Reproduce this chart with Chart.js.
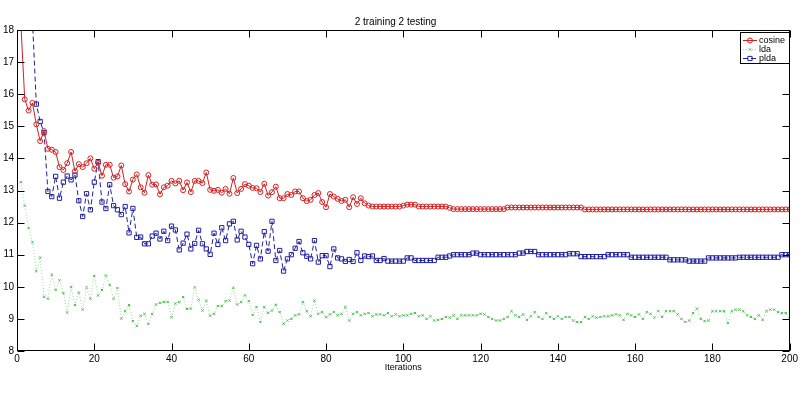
<!DOCTYPE html>
<html><head><meta charset="utf-8">
<script src="https://cdn.jsdelivr.net/npm/chart.js@4"></script>
<style>html,body{margin:0;padding:0;background:#fff}#wrap{width:800px;height:394px}</style>
</head><body><div id="wrap"><canvas id="c" width="800" height="394"></canvas></div>
<script>
const chartTitle = '2 training 2 testing';
const xAxisTitle = 'Iterations';
const seriesNames = ['cosine', 'lda', 'plda'];
const xTickValues = [0, 20, 40, 60, 80, 100, 120, 140, 160, 180, 200];
const yTickValues = [8, 9, 10, 11, 12, 13, 14, 15, 16, 17, 18];
const iterations = Array.from({length: 200}, (_, i) => i + 1);

const cosine = [
18.2,15.84,15.49,15.73,15.06,14.54,14.85,14.3,14.27,14.2,
13.73,13.64,13.85,14.2,13.6,13.82,13.73,13.85,14.0,13.68,
13.86,13.46,13.8,13.8,13.4,13.44,13.78,13.2,12.97,13.34,
13.5,13.1,12.93,13.48,13.18,13.19,12.88,13.1,13.15,13.3,
13.22,13.3,13.01,13.25,12.95,13.3,13.3,13.23,13.56,13.02,
12.99,13.02,12.93,13.05,12.9,13.39,12.92,13.05,13.2,13.15,
13.08,13.07,12.95,13.21,12.84,12.95,13.12,12.76,12.76,12.89,
12.86,12.97,12.97,12.76,12.67,12.71,12.86,12.92,12.64,12.48,
12.89,12.81,12.74,12.67,12.71,12.48,12.79,12.58,12.76,12.6,
12.53,12.5,12.5,12.5,12.5,12.5,12.5,12.5,12.5,12.53,
12.56,12.56,12.56,12.5,12.5,12.5,12.5,12.5,12.5,12.5,
12.5,12.46,12.42,12.42,12.42,12.42,12.42,12.42,12.42,12.42,
12.42,12.42,12.42,12.42,12.42,12.42,12.47,12.47,12.47,12.47,
12.47,12.47,12.47,12.47,12.47,12.47,12.47,12.47,12.47,12.47,
12.47,12.47,12.47,12.47,12.47,12.47,12.41,12.41,12.41,12.41,
12.41,12.41,12.41,12.41,12.41,12.41,12.41,12.41,12.41,12.41,
12.41,12.41,12.41,12.41,12.41,12.41,12.41,12.41,12.41,12.41,
12.41,12.41,12.41,12.41,12.41,12.41,12.41,12.41,12.41,12.41,
12.41,12.41,12.41,12.41,12.41,12.41,12.41,12.41,12.41,12.41,
12.41,12.41,12.41,12.41,12.41,12.41,12.41,12.41,12.41,12.41
];

const lda = [
13.26,12.53,11.83,11.39,10.49,10.91,9.69,9.63,10.38,9.9,
10.2,9.8,9.2,10.0,9.43,9.82,9.29,9.98,9.63,10.34,
9.73,9.9,10.35,10.06,9.63,9.96,9.01,9.24,9.43,8.93,
8.78,9.1,9.15,8.84,9.15,9.45,9.5,9.53,9.53,9.05,
9.48,9.52,9.68,9.31,9.32,9.98,9.6,9.26,9.57,9.1,
9.16,9.4,9.4,9.55,9.57,9.97,9.45,9.52,9.73,9.55,
9.12,9.37,8.9,9.37,9.19,9.26,9.44,9.21,8.85,8.95,
9.0,9.11,9.14,9.52,9.24,9.08,9.57,9.16,9.21,9.05,
9.14,9.21,9.11,9.16,9.37,8.95,9.16,9.21,9.11,9.16,
9.18,9.08,9.14,9.14,9.11,9.18,9.08,9.14,9.08,9.11,
9.11,9.16,9.18,9.08,9.11,9.0,9.08,8.95,8.97,9.0,
9.06,9.04,9.11,9.0,9.11,9.11,9.11,9.11,9.11,9.16,
9.14,9.06,9.0,8.95,8.95,9.0,9.06,9.24,9.11,9.06,
9.14,8.97,9.08,9.21,9.06,9.0,9.18,9.06,9.0,9.08,
9.0,9.06,9.06,8.95,8.9,8.9,9.06,9.0,9.08,9.04,
9.06,9.08,9.08,9.11,9.14,9.11,8.97,9.16,9.11,9.06,
9.14,9.0,9.21,9.16,9.04,9.24,9.06,9.24,9.24,9.24,
9.14,9.0,8.9,8.95,9.18,9.32,9.0,8.93,8.95,9.24,
9.24,9.24,9.24,8.87,9.24,9.29,9.29,9.24,9.11,9.06,
9.0,9.11,8.97,9.24,9.29,9.29,9.21,9.18,9.18,9.0
];

const plda = [
30,25,21,18.3,15.69,15.15,14.8,12.97,12.81,13.44,
12.76,13.26,13.45,13.33,13.48,12.68,12.19,12.9,12.4,13.26,
13.9,12.64,12.44,13.18,12.53,12.4,12.25,12.5,11.68,12.44,
11.54,11.55,11.34,11.34,11.58,11.67,11.49,11.73,11.44,11.89,
11.77,11.15,11.36,11.64,11.18,11.35,11.76,11.34,11.18,11.01,
11.67,11.32,11.84,11.44,11.96,12.04,11.46,11.73,11.55,11.32,
10.72,11.29,10.87,11.72,11.11,12.04,10.82,11.13,10.49,10.87,
11.0,11.2,11.41,11.06,10.95,10.87,11.44,10.77,10.97,10.97,
10.63,11.18,10.9,10.87,10.79,10.85,10.79,11.06,10.82,10.96,
10.94,10.96,10.82,10.82,10.88,10.8,10.8,10.8,10.8,10.8,
10.9,10.9,10.82,10.82,10.82,10.82,10.82,10.82,10.92,10.92,
10.92,10.96,11.0,11.0,11.0,11.0,11.0,11.05,11.05,11.0,
11.0,11.0,11.0,11.0,11.0,11.0,11.0,11.0,11.0,11.05,
11.05,11.1,11.1,11.1,11.0,11.0,11.0,11.0,11.0,11.0,
11.0,11.0,11.03,11.03,11.03,10.94,10.94,10.94,10.94,10.94,
10.94,10.94,11.0,11.0,11.0,11.0,11.0,11.0,10.92,10.92,
10.92,10.92,10.92,10.92,10.92,10.92,10.92,10.92,10.84,10.84,
10.84,10.84,10.84,10.8,10.8,10.8,10.8,10.8,10.9,10.9,
10.9,10.9,10.9,10.9,10.9,10.9,10.92,10.92,10.92,10.92,
10.92,10.92,10.92,10.92,10.92,10.92,10.92,11.0,11.0,11.0
];

const FONT = 'Liberation Sans, Arial, Helvetica, sans-serif';
const toPoints = arr => iterations.map((it, i) => ({x: it, y: arr[i]}));

const frameTicks = {
  id: 'frameTicks',
  afterDatasetsDraw(chart) {
    const {ctx, chartArea: {left, right, top, bottom}, scales: {x, y}} = chart;
    const L = Math.round(left) + 0.5, R = Math.round(right) - 0.5;
    const T = Math.round(top) + 0.5, B = Math.round(bottom) - 0.5;
    ctx.save();
    ctx.strokeStyle = '#000';
    ctx.lineWidth = 1;
    ctx.beginPath();
    x.ticks.forEach(t => {
      const p = Math.round(x.getPixelForValue(t.value)) + 0.5;
      ctx.moveTo(p, B); ctx.lineTo(p, B - 7);
      ctx.moveTo(p, T); ctx.lineTo(p, T + 7);
    });
    y.ticks.forEach(t => {
      const p = Math.round(y.getPixelForValue(t.value)) + 0.5;
      ctx.moveTo(L, p); ctx.lineTo(L + 7, p);
      ctx.moveTo(R, p); ctx.lineTo(R - 7, p);
    });
    ctx.stroke();
    ctx.strokeRect(L, T, R - L, B - T);
    ctx.restore();
  }
};

const boxLegend = {
  id: 'boxLegend',
  afterDraw(chart) {
    const ctx = chart.ctx;
    const bx = 740.5, by = 32.5, bw = 49, bh = 31;
    ctx.save();
    ctx.fillStyle = '#fff';
    ctx.fillRect(bx, by, bw, bh);
    ctx.strokeStyle = '#000';
    ctx.lineWidth = 1;
    ctx.strokeRect(bx, by, bw, bh);
    const rows = [40.5, 49.5, 58.5];
    chart.data.datasets.forEach((ds, i) => {
      const yy = rows[i];
      ctx.save();
      ctx.strokeStyle = ds.borderColor;
      ctx.lineWidth = ds.borderWidth;
      ctx.setLineDash(ds.borderDash || []);
      ctx.beginPath();
      ctx.moveTo(743, yy); ctx.lineTo(757, yy);
      ctx.stroke();
      ctx.setLineDash([]);
      ctx.strokeStyle = ds.pointBorderColor;
      ctx.fillStyle = 'rgba(255,255,255,0)';
      ctx.lineWidth = ds.pointBorderWidth;
      Chart.helpers.drawPoint(ctx, {pointStyle: ds.pointStyle, radius: ds.pointRadius, borderWidth: ds.pointBorderWidth, rotation: 0}, 750, yy);
      ctx.restore();
      ctx.fillStyle = '#000';
      ctx.font = '9px ' + FONT;
      ctx.textBaseline = 'middle';
      ctx.textAlign = 'left';
      ctx.fillText(ds.label, 759, yy);
    });
    ctx.restore();
  }
};

new Chart(document.getElementById('c'), {
  type: 'line',
  data: {
    datasets: [
      {label: seriesNames[0], data: toPoints(cosine), borderColor: '#d42020', borderWidth: 1,
       pointStyle: 'circle', pointRadius: 2.5, pointBorderWidth: 1, pointBorderColor: '#d42020',
       pointBackgroundColor: 'rgba(0,0,0,0)', tension: 0},
      {label: seriesNames[1], data: toPoints(lda), borderColor: '#8fe08f', borderWidth: 1, borderDash: [1, 2],
       pointStyle: 'crossRot', pointRadius: 1.6, pointBorderWidth: 1, pointBorderColor: '#4cb84c',
       pointBackgroundColor: 'rgba(0,0,0,0)', tension: 0},
      {label: seriesNames[2], data: toPoints(plda), borderColor: '#2020a0', borderWidth: 1, borderDash: [5, 3],
       pointStyle: 'rect', pointRadius: 3, pointBorderWidth: 1, pointBorderColor: '#2020a0',
       pointBackgroundColor: 'rgba(0,0,0,0)', tension: 0}
    ]
  },
  options: {
    responsive: false,
    animation: false,
    events: [],
    layout: {padding: {left: 0, right: 9, top: 0, bottom: 0}},
    plugins: {
      legend: {display: false},
      tooltip: {enabled: false},
      title: {display: true, text: chartTitle, color: '#000', font: {family: FONT, size: 10, weight: 'normal'},
              padding: {top: 16, bottom: 2}}
    },
    scales: {
      x: {
        type: 'linear', min: 0, max: 200,
        afterBuildTicks: s => { s.ticks = xTickValues.map(v => ({value: v})); },
        afterFit: s => { s.height = 43; },
        grid: {display: false, drawTicks: false},
        border: {display: false},
        ticks: {color: '#000', font: {family: FONT, size: 10}, padding: 2, maxRotation: 0, autoSkip: false},
        title: {display: true, text: xAxisTitle, color: '#000', font: {family: FONT, size: 9}, padding: {top: 0, bottom: 21}}
      },
      y: {
        type: 'linear', min: 8, max: 18,
        afterBuildTicks: s => { s.ticks = yTickValues.map(v => ({value: v})); },
        afterFit: s => { s.width = 17; },
        grid: {display: false, drawTicks: false},
        border: {display: false},
        ticks: {color: '#000', font: {family: FONT, size: 10}, padding: 3, autoSkip: false}
      }
    }
  },
  plugins: [frameTicks, boxLegend]
});
</script>
</body></html>
